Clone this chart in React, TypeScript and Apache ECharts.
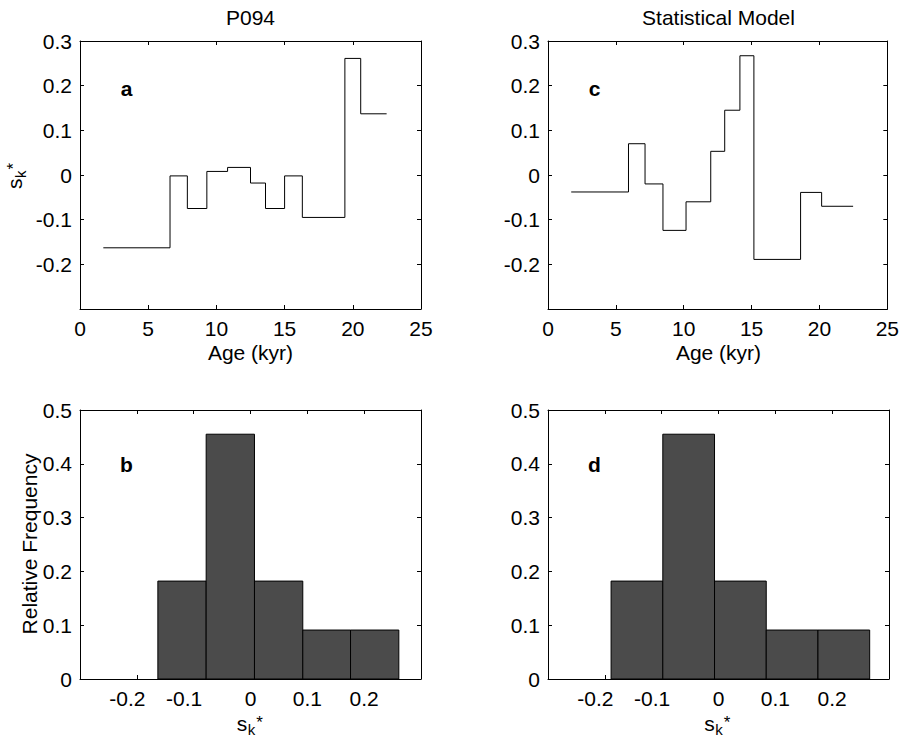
import React, { useEffect, useRef } from 'react';
import * as echarts from 'echarts';

// ---- Data ----
// Panel a (P094): stepwise s_k* versus age (kyr); edges bound each step
const ageEdgesP094 = [1.71, 6.6, 7.87, 9.3, 10.82, 12.5, 13.6, 15.0, 16.3, 19.42, 20.58, 22.48];
const skP094 = [-0.163, -0.002, -0.075, 0.008, 0.017, -0.018, -0.075, -0.002, -0.095, 0.261, 0.137];
// Panel c (Statistical Model)
const ageEdgesModel = [1.71, 5.93, 7.15, 8.47, 10.17, 11.99, 13.02, 14.14, 15.17, 18.61, 20.16, 22.48];
const skModel = [-0.038, 0.07, -0.02, -0.124, -0.06, 0.053, 0.145, 0.267, -0.189, -0.039, -0.07];
// Panel b / d histograms: bin edges and relative frequencies
const binEdgesP094 = [-0.163, -0.078, 0.007, 0.092, 0.176, 0.261];
const freqP094 = [0.182, 0.455, 0.182, 0.091, 0.091];
const binEdgesModel = [-0.189, -0.098, -0.007, 0.084, 0.175, 0.266];
const freqModel = [0.182, 0.455, 0.182, 0.091, 0.091];

const titles = ['P094', 'Statistical Model'];
const panelLetters = ['a', 'b', 'c', 'd'];
const ageLabel = 'Age (kyr)';
const freqLabel = 'Relative Frequency';

const FONT = '"Liberation Sans", Arial, Helvetica, sans-serif';
const FS = 21;

const grids = [
  { left: 80, top: 41, width: 341, height: 268 },
  { left: 80, top: 410, width: 341, height: 269 },
  { left: 548, top: 41, width: 341, height: 268 },
  { left: 548, top: 410, width: 341, height: 269 },
];

function fmt(v: number): string {
  const r = Math.round(v * 10) / 10;
  if (r === 0) return '0';
  return String(r);
}

function baseAxis(gridIndex: number, position: string, showLabel: boolean, extra: any) {
  return {
    type: 'value',
    gridIndex,
    position,
    axisLine: { show: true, onZero: false, lineStyle: { color: '#000', width: 1 } },
    axisTick: { show: true, inside: true, length: 4, lineStyle: { color: '#000', width: 1 } },
    splitLine: { show: false },
    axisLabel: { show: showLabel, color: '#000', fontSize: FS, fontFamily: FONT },
    ...extra,
  };
}

function skLabel(x: number, y: number, rotation: number) {
  return {
    type: 'group',
    x,
    y,
    rotation,
    children: [
      { type: 'text', x: 0, y: -7.3, style: { text: 's', fontSize: FS, fontFamily: FONT, fill: '#000', align: 'left', verticalAlign: 'middle' } },
      { type: 'text', x: 11, y: -1.5, style: { text: 'k', fontSize: 15, fontFamily: FONT, fill: '#000', align: 'left', verticalAlign: 'middle' } },
      { type: 'text', x: 19.5, y: -8.7, style: { text: '*', fontSize: 17, fontFamily: FONT, fill: '#000', align: 'left', verticalAlign: 'middle' } },
    ],
  };
}

export default function App() {
  const ref = useRef<HTMLDivElement>(null);

  useEffect(() => {
    document.body.style.margin = '0';
    if (!ref.current) return;
    const chart = echarts.init(ref.current, null, { renderer: 'svg' });

    const xAxes: any[] = [];
    const yAxes: any[] = [];
    grids.forEach((g, i) => {
      const isTop = i === 0 || i === 2;
      const xExtra = isTop
        ? { min: 0, max: 25, interval: 5, axisLabel: { show: true, color: '#000', fontSize: FS, fontFamily: FONT, margin: 9 } }
        : {
            min: -0.3,
            max: 0.3,
            interval: 0.1,
            axisLabel: {
              show: true,
              color: '#000',
              fontSize: FS,
              fontFamily: FONT,
              margin: 9,
              formatter: (v: number) => {
                const r = Math.round(v * 10) / 10;
                if (Math.abs(Math.abs(r) - 0.3) < 1e-9) return '';
                return r < 0 ? '{n|' + fmt(r) + '}' : fmt(r);
              },
              rich: { n: { fontSize: FS, fontFamily: FONT, color: '#000', padding: [0, 19, 0, 0] } },
            },
          };
      const yExtra = isTop
        ? {
            min: -0.3,
            max: 0.3,
            interval: 0.1,
            axisLabel: {
              show: true, color: '#000', fontSize: FS, fontFamily: FONT, margin: 8,
              formatter: (v: number) => {
                const r = Math.round(v * 10) / 10;
                if (Math.abs(r + 0.3) < 1e-9) return '';
                return fmt(r);
              },
            },
          }
        : {
            min: 0,
            max: 0.5,
            interval: 0.1,
            axisLabel: { show: true, color: '#000', fontSize: FS, fontFamily: FONT, margin: 8, formatter: (v: number) => fmt(v) },
          };
      xAxes.push(baseAxis(i, 'bottom', true, xExtra));
      xAxes.push(baseAxis(i, 'top', false, { ...xExtra, axisLabel: { show: false } }));
      yAxes.push(baseAxis(i, 'left', true, yExtra));
      yAxes.push(baseAxis(i, 'right', false, { ...yExtra, axisLabel: { show: false } }));
    });

    const stepData = (edges: number[], vals: number[]) =>
      edges.map((e, i) => [e, vals[Math.min(i, vals.length - 1)]]);
    const histData = (edges: number[], freq: number[]) =>
      freq.map((f, i) => [edges[i], edges[i + 1], f]);

    const renderBar = (params: any, api: any) => {
      const p0 = api.coord([api.value(0), api.value(2)]);
      const p1 = api.coord([api.value(1), 0]);
      return {
        type: 'rect',
        shape: { x: p0[0], y: p0[1], width: p1[0] - p0[0], height: p1[1] - p0[1] },
        style: { fill: '#4b4b4b', stroke: '#000', lineWidth: 1 },
      };
    };

    const series: any[] = [
      {
        type: 'line', xAxisIndex: 0, yAxisIndex: 0, step: 'end', symbol: 'none',
        lineStyle: { color: '#000', width: 1 }, data: stepData(ageEdgesP094, skP094),
      },
      {
        type: 'custom', xAxisIndex: 2, yAxisIndex: 2, renderItem: renderBar,
        encode: { x: [0, 1], y: 2 }, data: histData(binEdgesP094, freqP094),
      },
      {
        type: 'line', xAxisIndex: 4, yAxisIndex: 4, step: 'end', symbol: 'none',
        lineStyle: { color: '#000', width: 1 }, data: stepData(ageEdgesModel, skModel),
      },
      {
        type: 'custom', xAxisIndex: 6, yAxisIndex: 6, renderItem: renderBar,
        encode: { x: [0, 1], y: 2 }, data: histData(binEdgesModel, freqModel),
      },
    ];

    const txt = (text: string, x: number, y: number, extra: any = {}) => ({
      type: 'text',
      x,
      y,
      style: { text, fontSize: FS, fontFamily: FONT, fill: '#000', align: 'center', verticalAlign: 'middle', ...extra },
    });

    const graphic: any[] = [
      txt(titles[0], 250.5, 17.5),
      txt(titles[1], 718.5, 17.5),
      txt(ageLabel, 250.5, 352),
      txt(ageLabel, 718.5, 352),
      txt(panelLetters[0], 126.5, 88.5, { fontWeight: 'bold' }),
      txt(panelLetters[1], 126.5, 464, { fontWeight: 'bold' }),
      txt(panelLetters[2], 594.5, 88.5, { fontWeight: 'bold' }),
      txt(panelLetters[3], 594.5, 464, { fontWeight: 'bold' }),
      { ...txt(freqLabel, 29, 544), rotation: Math.PI / 2 },
      skLabel(236.7, 731, 0),
      skLabel(704.3, 731, 0),
      skLabel(22, 189, Math.PI / 2),
    ];

    chart.setOption({
      animation: false,
      backgroundColor: '#fff',
      grid: grids.map((g) => ({ ...g, containLabel: false, show: false })),
      xAxis: xAxes,
      yAxis: yAxes,
      series,
      graphic,
    });

    return () => chart.dispose();
  }, []);

  return <div ref={ref} style={{ width: 902, height: 737 }} />;
}
